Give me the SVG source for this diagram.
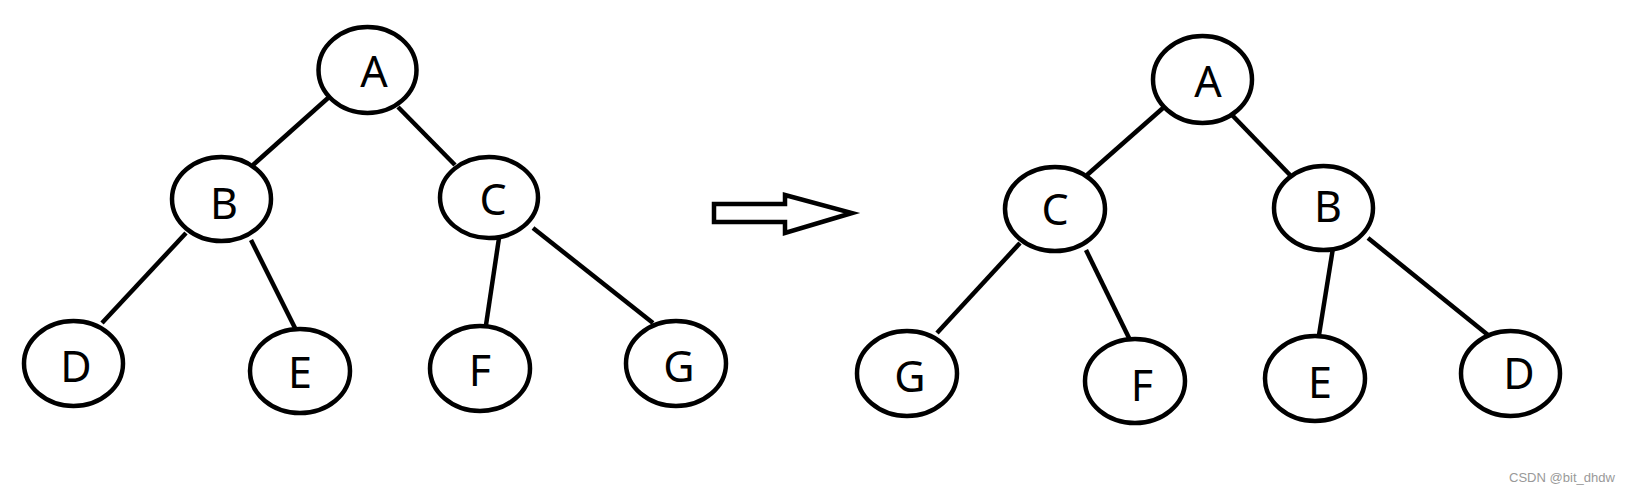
<svg xmlns="http://www.w3.org/2000/svg" width="1631" height="493" viewBox="0 0 1631 493">
<style>
.n ellipse{fill:#fff;stroke:#000;stroke-width:4.5}
.n text{font-family:"Noto Sans","Open Sans",sans-serif;font-size:43px;fill:#000;text-anchor:middle}
#edges line{stroke:#000;stroke-width:4.5}
.wm{font-family:"Liberation Sans",Arial,sans-serif;font-size:13.5px;fill:#999}
</style>
<rect width="1631" height="493" fill="#fff"/>
<g id="edges">
<line x1="328" y1="98" x2="253" y2="165"/>
<line x1="398" y1="107" x2="455" y2="165"/>
<line x1="186" y1="233" x2="102" y2="323"/>
<line x1="251" y1="240" x2="297" y2="332"/>
<line x1="499" y1="238" x2="486" y2="325"/>
<line x1="533" y1="228" x2="653" y2="323"/>
<line x1="1163" y1="108" x2="1087" y2="175"/>
<line x1="1232" y1="115" x2="1290" y2="175"/>
<line x1="1020" y1="243" x2="937" y2="333"/>
<line x1="1086" y1="250" x2="1131" y2="342"/>
<line x1="1333" y1="248" x2="1319" y2="335"/>
<line x1="1368" y1="238" x2="1488" y2="335"/>
</g>
<g id="arrow">
<polygon points="714,204 785,204 785,195 852,213 785,233 785,222 714,222" fill="#fff" stroke="#000" stroke-width="4.5" stroke-linejoin="miter"/>
</g>
<g id="L_A" class="n"><ellipse cx="367.5" cy="70" rx="49" ry="43"/><text x="374" y="87">A</text></g>
<g id="L_B" class="n"><ellipse cx="221.5" cy="199" rx="49.5" ry="42"/><text x="224" y="219">B</text></g>
<g id="L_C" class="n"><ellipse cx="489" cy="197.5" rx="49" ry="40.5"/><text x="493" y="215">C</text></g>
<g id="L_D" class="n"><ellipse cx="73.5" cy="363.5" rx="49.5" ry="42.5"/><text x="76" y="382">D</text></g>
<g id="L_E" class="n"><ellipse cx="300" cy="371" rx="50" ry="42"/><text x="300" y="388">E</text></g>
<g id="L_F" class="n"><ellipse cx="480" cy="368.5" rx="50" ry="42.5"/><text x="480" y="386">F</text></g>
<g id="L_G" class="n"><ellipse cx="676" cy="363.5" rx="50" ry="42.5"/><text x="679" y="382">G</text></g>
<g id="R_A" class="n"><ellipse cx="1202.5" cy="79.5" rx="49.5" ry="43.5"/><text x="1208" y="97">A</text></g>
<g id="R_C" class="n"><ellipse cx="1055" cy="209" rx="50" ry="42"/><text x="1055" y="225">C</text></g>
<g id="R_B" class="n"><ellipse cx="1323.5" cy="208" rx="49.5" ry="42"/><text x="1328" y="222">B</text></g>
<g id="R_G" class="n"><ellipse cx="907" cy="373.5" rx="50" ry="42.5"/><text x="910" y="392">G</text></g>
<g id="R_F" class="n"><ellipse cx="1135" cy="381" rx="50" ry="42"/><text x="1142" y="401">F</text></g>
<g id="R_E" class="n"><ellipse cx="1315" cy="378.5" rx="50" ry="42.5"/><text x="1320" y="398">E</text></g>
<g id="R_D" class="n"><ellipse cx="1510.5" cy="373.5" rx="49.5" ry="42.5"/><text x="1519" y="389">D</text></g>
<text class="wm" x="1509" y="482" textLength="106" lengthAdjust="spacingAndGlyphs">CSDN @bit_dhdw</text>
</svg>
